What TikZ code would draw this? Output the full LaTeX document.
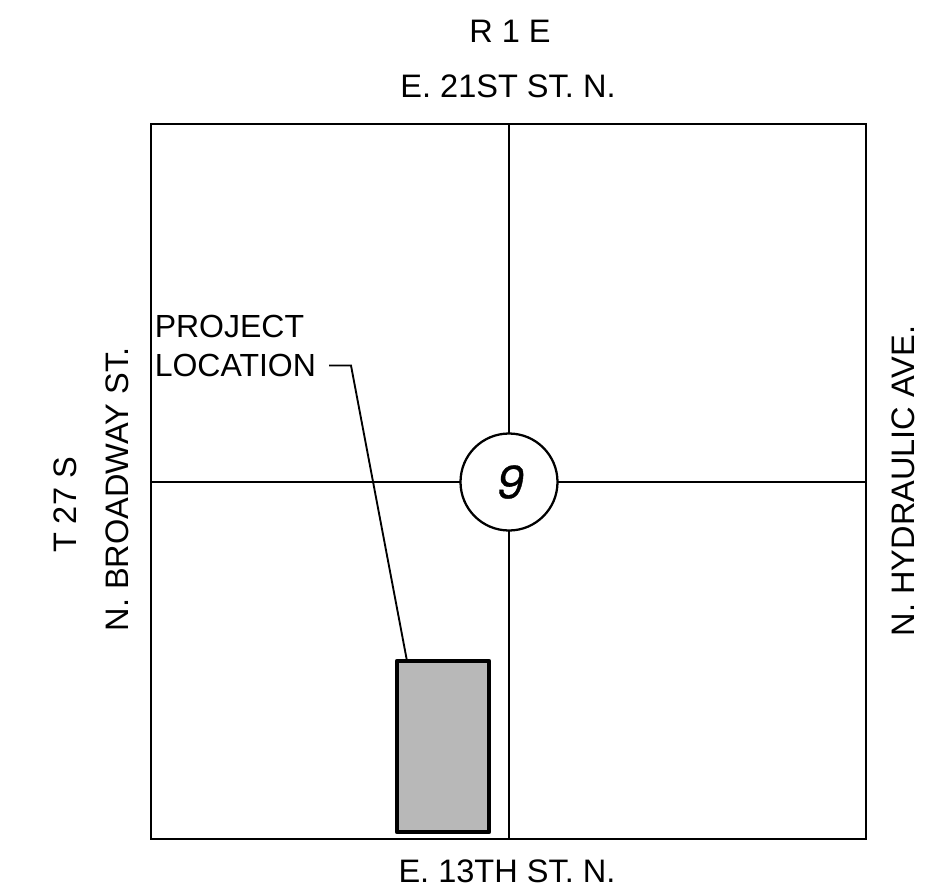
\documentclass[tikz,border=0pt]{standalone}
\usepackage{fontspec}
\setmainfont{Liberation Sans}
\newfontfamily\ninefont[FakeSlant=0.2,FakeBold=0.8]{Poppins}
\begin{document}
\begin{tikzpicture}[x=0.75pt,y=-0.75pt,
  lbl/.style={inner sep=0pt,font=\fontsize{24.4pt}{29.3pt}\selectfont},
  road/.style={draw=black,line width=1.7pt},
  thin leader/.style={draw=black,line width=1.4pt,line join=miter}]
\useasboundingbox (0,0) rectangle (932,889);
\node[lbl,anchor=center] (r) at (510,31) {R 1 E};
\node[lbl,anchor=center] (north) at (508,86) {E. 21ST ST. N.};
\node[lbl,anchor=center] (south) at (507,871) {E. 13TH ST. N.};
\node[lbl,rotate=90,anchor=center] (t) at (65,505) {T 27 S};
\node[lbl,rotate=90,anchor=center] (west) at (117,489.5) {N. BROADWAY ST.};
\node[lbl,rotate=90,anchor=center] (east) at (903,481) {N. HYDRAULIC AVE.};
\node[road,outer sep=0pt,minimum width=715*0.75pt,minimum height=715*0.75pt,inner sep=0pt,anchor=north west] (frame) at (151,124) {};
\node[draw=black,line width=1.7pt,circle,outer sep=0pt,minimum size=97*0.75pt,inner sep=0pt,fill=white,text depth=0pt,font=\ninefont\fontsize{34pt}{34pt}\selectfont] (sec) at (509,482) {\kern-2pt 9};
\draw[road] (frame.north -| sec) -- (sec.north);
\draw[road] (sec.south) -- (frame.south -| sec);
\draw[road] (frame.west |- sec) -- (sec.west);
\draw[road] (sec.east) -- (frame.east |- sec);
\node[draw=black,line width=3pt,fill=black!28,line join=round,outer sep=0pt,minimum width=92.5*0.75pt,minimum height=171*0.75pt,inner sep=0pt,anchor=north west] (site) at (396.8,661) {};
\node[lbl,font=\fontsize{24pt}{29.3pt}\selectfont,align=left,anchor=north west] (proj) at (154.5,315) {PROJECT\\LOCATION};
\coordinate (a) at (329,365.5);
\coordinate (b) at (351,365.5);
\coordinate (c) at (407,661);
\draw[thin leader] (a) -- (b) -- (c);
\end{tikzpicture}
\end{document}
